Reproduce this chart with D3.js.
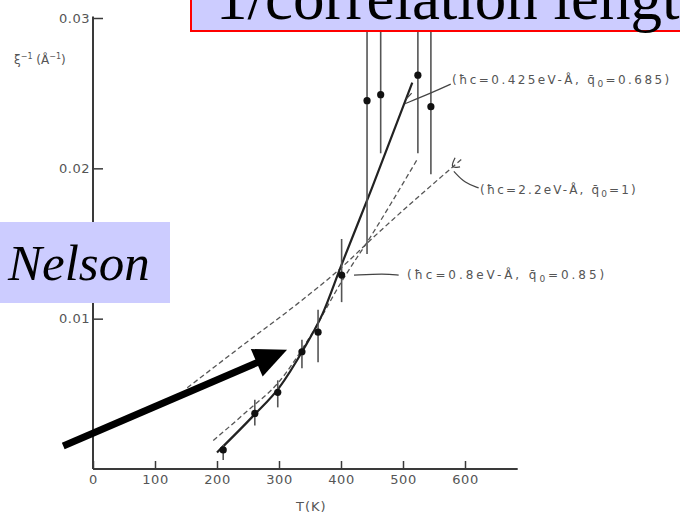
<!DOCTYPE html>
<html><head><meta charset="utf-8">
<script src="https://cdn.jsdelivr.net/npm/d3@7"></script>
<style>body{margin:0;background:#fff}svg{display:block}</style>
</head><body>
<svg id="c" width="680" height="515"></svg>
<script>
// ---- data ----
const temps   = [210, 261, 298, 337, 363, 401, 442, 464, 524, 545];
const xiInv   = [0.00127, 0.0037, 0.0051, 0.0078, 0.0091, 0.0129, 0.0245, 0.0249, 0.0262, 0.0241];
const errLow  = [0.0006, 0.0029, 0.0041, 0.0067, 0.0071, 0.0111, 0.0143, 0.0210, 0.0210, 0.0196];
const errHigh = [0.0016, 0.0046, 0.0059, 0.0086, 0.0106, 0.0153, 0.0300, 0.0300, 0.0300, 0.0300];

const fitSolidT = [200, 260, 300, 340, 370, 400, 450, 515];
const fitSolidY = [0.0011, 0.0036, 0.0054, 0.0080, 0.0103, 0.0135, 0.0187, 0.0257];
const fitDash1T = [194, 250, 300, 350, 400, 450, 523];
const fitDash1Y = [0.0019, 0.0039, 0.0058, 0.0088, 0.0124, 0.0156, 0.0206];
const fitDash2T = [152, 250, 330, 398, 452, 597];
const fitDash2Y = [0.0054, 0.0085, 0.0110, 0.0133, 0.0154, 0.0207];

const xTicks = [0, 100, 200, 300, 400, 500, 600];
const yTicks = [0.01, 0.02, 0.03];
const labelSolid = ["(ħc=0.425eV-Å, q̄", "0", "=0.685)"];
const labelDash2 = ["(ħc=2.2eV-Å, q̄", "0", "=1)"];
const labelDash1 = ["(ħc=0.8eV-Å, q̄", "0", "=0.85)"];

// ---- scales ----
const svg = d3.select("#c");
const x = d3.scaleLinear().domain([0, 600]).range([93, 465]);
const y = d3.scaleLinear().domain([0, 0.03]).range([469, 18]);
const ink = "#3a3a3a", font = "DejaVu Sans, sans-serif";

// axes
const gx = svg.append("g").attr("transform", `translate(0,${y(0)})`)
  .call(d3.axisBottom(x).tickValues(xTicks).tickSize(-8).tickPadding(6).tickFormat(d3.format("d")));
gx.select(".domain").remove();
gx.selectAll("line").attr("stroke", ink).attr("stroke-width", 1.5);
gx.selectAll("text").attr("fill", "#555").style("font", `13px ${font}`).style("letter-spacing", "0.5px");
svg.append("line").attr("x1", x(0)).attr("x2", x(685)).attr("y1", y(0)).attr("y2", y(0))
  .attr("stroke", ink).attr("stroke-width", 2);

const gy = svg.append("g").attr("transform", `translate(${x(0)},0)`)
  .call(d3.axisLeft(y).tickValues(yTicks).tickSize(-10).tickPadding(3).tickFormat(d3.format(".2f")));
gy.select(".domain").remove();
gy.selectAll("line").attr("stroke", ink).attr("stroke-width", 1.5);
gy.selectAll("text").attr("fill", "#555").style("font", `13px ${font}`).style("letter-spacing", "0.5px");
svg.append("line").attr("x1", x(0)).attr("x2", x(0)).attr("y1", y(0)).attr("y2", y(0.0301))
  .attr("stroke", ink).attr("stroke-width", 2);

// axis titles
const yl = svg.append("text").attr("x", 14).attr("y", 64).attr("fill", "#555").style("font", `12px ${font}`);
yl.append("tspan").text("ξ");
yl.append("tspan").attr("dy", -5).style("font-size", "8px").text("−1");
yl.append("tspan").attr("dy", 5).text(" (Å");
yl.append("tspan").attr("dy", -5).style("font-size", "8px").text("−1");
yl.append("tspan").attr("dy", 5).text(")");
svg.append("text").attr("x", 296).attr("y", 511).attr("fill", "#555")
  .style("font", `13px ${font}`).style("letter-spacing", "1px").text("T(K)");

// fit curves
const pts = (T, Y) => T.map((t, i) => [x(t), y(Y[i])]);
const line = d3.line().curve(d3.curveMonotoneX);
svg.append("path").attr("d", line(pts(fitDash2T, fitDash2Y))).attr("fill", "none")
  .attr("stroke", "#555").attr("stroke-width", 1.3).attr("stroke-dasharray", "5,3");
svg.append("path").attr("d", line(pts(fitDash1T, fitDash1Y))).attr("fill", "none")
  .attr("stroke", "#555").attr("stroke-width", 1.3).attr("stroke-dasharray", "5,3");
svg.append("path").attr("d", line(pts(fitSolidT, fitSolidY))).attr("fill", "none")
  .attr("stroke", "#222").attr("stroke-width", 2.2);

// error bars + points
temps.forEach((t, i) => {
  svg.append("line").attr("x1", x(t)).attr("x2", x(t)).attr("y1", y(errLow[i])).attr("y2", y(errHigh[i]))
    .attr("stroke", "#555").attr("stroke-width", 1.6);
});
svg.selectAll("circle.pt").data(temps).join("circle").attr("class", "pt")
  .attr("cx", d => x(d)).attr("cy", (d, i) => y(xiInv[i])).attr("r", 3.6).attr("fill", "#111");

// annotations (leader lines in data units)
const lead = d3.line().curve(d3.curveBasis);
const leader = (arr) => svg.append("path").attr("d", lead(arr.map(p => [x(p[0]), y(p[1])])))
  .attr("fill", "none").attr("stroke", "#444").attr("stroke-width", 1.2);
leader([[577, 0.0256], [545, 0.0250], [503, 0.0243]]);
leader([[505, 0.0246], [514, 0.0250]]);
leader([[622, 0.0187], [600, 0.0190], [582, 0.0198]]);
leader([[592, 0.0201], [576, 0.0200], [584, 0.0207]]);
leader([[421, 0.0129], [470, 0.0130], [493, 0.0129]]);

function label(parts, px, py, len) {
  const t = svg.append("text").attr("x", px).attr("y", py).attr("fill", "#555")
    .style("font", `12px ${font}`);
  t.append("tspan").text(parts[0]);
  t.append("tspan").attr("dy", 3).style("font-size", "9px").text(parts[1]);
  t.append("tspan").attr("dy", -3).text(parts[2]);
  const w = t.node().getComputedTextLength();
  t.style("letter-spacing", ((len - w) / (parts.join("").length)) + "px");
}
label(labelSolid, 452, 84, 222);
label(labelDash2, 480, 194, 160);
label(labelDash1, 407, 279, 203);

// big arrow annotation
const aStart = [x(-48), y(0.00153)], aTip = [x(313), y(0.00793)];
const dx = aTip[0] - aStart[0], dy = aTip[1] - aStart[1], L = Math.hypot(dx, dy);
const ux = dx / L, uy = dy / L, hl = 33, hw = 15;
const base = [aTip[0] - ux * hl, aTip[1] - uy * hl];
svg.append("line").attr("x1", aStart[0]).attr("y1", aStart[1]).attr("x2", base[0] + ux * 3).attr("y2", base[1] + uy * 3)
  .attr("stroke", "#000").attr("stroke-width", 7);
svg.append("path").attr("d", `M${aTip}L${base[0] - uy * hw},${base[1] + ux * hw}L${base[0] + uy * hw},${base[1] - ux * hw}Z`)
  .attr("fill", "#000");

// title box
svg.append("rect").attr("x", 191).attr("y", -20).attr("width", 520).attr("height", 51)
  .attr("fill", "#ccccff").attr("stroke", "#ff0000").attr("stroke-width", 2);
svg.append("text").attr("x", 216).attr("y", 19).attr("fill", "#000")
  .style("font", "63px 'Liberation Serif', serif").text("1/correlation length");

// Nelson box
svg.append("rect").attr("x", 0).attr("y", 222).attr("width", 170).attr("height", 81).attr("fill", "#ccccff");
svg.append("text").attr("x", 8).attr("y", 280).attr("fill", "#000")
  .style("font", "italic 51px 'Liberation Serif', serif").text("Nelson");
</script>
</body></html>
